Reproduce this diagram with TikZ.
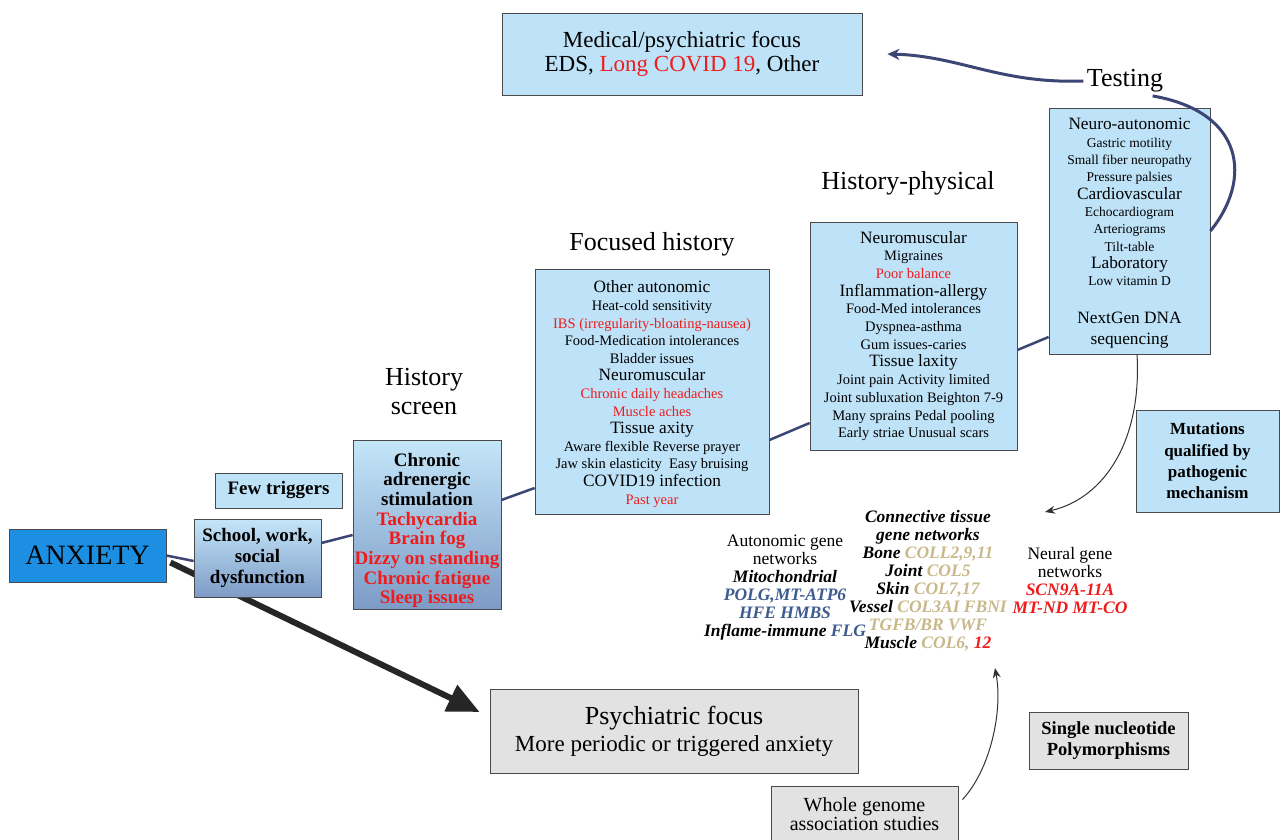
\documentclass[tikz,border=0pt]{standalone}
\usepackage{fontspec}
\setmainfont{Liberation Serif}
\usetikzlibrary{arrows.meta,positioning,backgrounds}

\definecolor{boxblue}{HTML}{BEE2F7}
\definecolor{boxtop}{HTML}{C4E6F9}
\definecolor{boxbot}{HTML}{7D9BC6}
\definecolor{anxblue}{HTML}{1C8FE3}
\definecolor{boxgray}{HTML}{E2E2E2}
\definecolor{edgegray}{HTML}{4A4A4A}
\definecolor{linkblue}{HTML}{3C4674}
\definecolor{hotred}{HTML}{EE1C1C}
\definecolor{genetan}{HTML}{C8B88A}
\definecolor{geneblue}{HTML}{3D5B8E}

\newcommand{\boxhead}[1]{{\fontsize{17.3}{17.6}\selectfont #1}}
\newcommand{\redtxt}[1]{\textcolor{hotred}{#1}}
\newcommand{\bfit}[1]{\textbf{\textit{#1}}}

\tikzset{
  bluebox/.style={draw=edgegray, line width=0.8pt, fill=boxblue, inner sep=0pt, align=center},
  gradbox/.style={draw=edgegray, line width=0.8pt, top color=boxtop, bottom color=boxbot,
    inner sep=0pt, align=center, font=\bfseries\fontsize{19}{19.7}\selectfont},
  graybox/.style={draw=edgegray, line width=0.8pt, fill=boxgray, inner sep=0pt, align=center},
  stagelabel/.style={font=\fontsize{26}{29}\selectfont, align=center},
  genetext/.style={align=center, font=\fontsize{17.5}{18}\selectfont},
  link/.style={draw=linkblue, line width=2.5pt},
  thinarrow/.style={draw=black!80, line width=1pt, -{Stealth[length=10pt,width=8pt]}},
  bigarrow/.style={draw=black!85, line width=6pt, -{Triangle[length=32pt,width=28pt]}}
}

\begin{document}
\begin{tikzpicture}[x=1pt,y=-1pt]
    \path[use as bounding box] (0,0) rectangle (1282,840);

    % the starting point and the first steps
    \node[draw=edgegray, line width=0.8pt, fill=anxblue, inner sep=0pt,
      minimum width=157pt, minimum height=53pt, font=\fontsize{28}{30}\selectfont]
      (anx) at (87.5,555.5) {ANXIETY};
    \node[gradbox, minimum width=127pt, minimum height=78pt, font=\bfseries\fontsize{19}{21}\selectfont]
      (school) at (257.5,558) {School, work,\\ social\\ dysfunction};
    \node[bluebox, minimum width=127pt, minimum height=35pt, font=\bfseries\fontsize{19}{21}\selectfont]
      (few) at (278.5,490.5) {Few triggers};
    \node[gradbox, minimum width=148pt, minimum height=169pt] (chronic) at (427,524.5)
      {\rule{0pt}{25pt}Chronic\\ adrenergic\\ stimulation\\ \redtxt{Tachycardia}\\ \redtxt{Brain fog}\\
       \redtxt{Dizzy on standing}\\ \redtxt{Chronic fatigue}\\ \redtxt{Sleep issues}};

    % the stage titles
    \node[stagelabel] (hslabel) at (424,392) {History\\ screen};
    \node[stagelabel] (fhlabel) at (652,244) {Focused history};
    \node[stagelabel] (hplabel) at (908,183) {History-physical};
    \node[stagelabel] (tlabel) at (1125,81) {Testing};

    % the boxes of each stage
    \node[bluebox, minimum width=234pt, minimum height=245pt, font=\fontsize{14.5}{17.6}\selectfont]
      (fhbox) at (652,391.5)
      {\rule{0pt}{17pt}\boxhead{Other autonomic}\\ Heat-cold sensitivity\\ \redtxt{IBS (irregularity-bloating-nausea)}\\
       Food-Medication intolerances\\ Bladder issues\\ \boxhead{Neuromuscular}\\
       \redtxt{Chronic daily headaches}\\ \redtxt{Muscle aches}\\ \boxhead{Tissue axity}\\
       Aware flexible Reverse prayer\\ Jaw skin elasticity\ \ Easy bruising\\
       \boxhead{COVID19 infection}\\ \redtxt{Past year}};
    \node[bluebox, minimum width=207pt, minimum height=228pt, font=\fontsize{14.5}{17.7}\selectfont]
      (hpbox) at (913.5,336)
      {\boxhead{Neuromuscular}\\ Migraines\\ \redtxt{Poor balance}\\ \boxhead{Inflammation-allergy}\\
       Food-Med intolerances\\ Dyspnea-asthma\\ Gum issues-caries\\ \boxhead{Tissue laxity}\\
       Joint pain Activity limited\\ Joint subluxation Beighton 7-9\\
       Many sprains Pedal pooling\\ Early striae Unusual scars};
    \node[bluebox, minimum width=161pt, minimum height=246pt, font=\fontsize{13.5}{17.3}\selectfont]
      (testbox) at (1129.5,231)
      {\rule{0pt}{16pt}\boxhead{Neuro-autonomic}\\ Gastric motility\\ Small fiber neuropathy\\ Pressure palsies\\
       \boxhead{Cardiovascular}\\ Echocardiogram\\ Arteriograms\\ Tilt-table\\
       \boxhead{Laboratory}\\ Low vitamin D\\[21pt] \boxhead{NextGen DNA}\\[3pt] \boxhead{sequencing}};
    \node[bluebox, minimum width=360pt, minimum height=82pt, font=\fontsize{23}{24}\selectfont]
      (medbox) at (682,54) {Medical/psychiatric focus\\ EDS, \redtxt{Long COVID 19}, Other};
    \node[bluebox, minimum width=143pt, minimum height=102pt, font=\bfseries\fontsize{17}{21.3}\selectfont]
      (mutbox) at (1207.5,461) {Mutations\\ qualified by\\ pathogenic\\ mechanism};

    % the gene networks
    \node[genetext] (autogenes) at (785,588)
      {Autonomic gene\\ networks\\ \bfit{Mitochondrial}\\ \bfit{\textcolor{geneblue}{POLG,MT-ATP6}}\\
       \bfit{\textcolor{geneblue}{HFE HMBS}}\\ \bfit{Inflame-immune \textcolor{geneblue}{FLG}}};
    \node[genetext] (ctgenes) at (928,581)
      {\bfit{Connective tissue}\\ \bfit{gene networks}\\ \bfit{Bone \textcolor{genetan}{COLL2,9,11}}\\
       \bfit{Joint \textcolor{genetan}{COL5}}\\ \bfit{Skin \textcolor{genetan}{COL7,17}}\\
       \bfit{Vessel \textcolor{genetan}{COL3AI FBNI}}\\ \bfit{\textcolor{genetan}{TGFB/BR VWF}}\\
       \bfit{Muscle \textcolor{genetan}{COL6,} \textcolor{hotred}{12}}};
    \node[genetext] (neurgenes) at (1070,581)
      {Neural gene\\ networks\\ \bfit{\textcolor{hotred}{SCN9A-11A}}\\ \bfit{\textcolor{hotred}{MT-ND MT-CO}}};

    % the grey boxes at the bottom
    \node[graybox, minimum width=368pt, minimum height=84pt, font=\fontsize{23}{27}\selectfont]
      (psych) at (674,731) {{\fontsize{26}{27}\selectfont Psychiatric focus}\\ More periodic or triggered anxiety};
    \node[graybox, minimum width=187pt, minimum height=78pt, font=\fontsize{20}{19}\selectfont]
      (wgas) at (864.5,825) {Whole genome\\ association studies\\[3pt]};
    \node[graybox, minimum width=159pt, minimum height=57pt, font=\bfseries\fontsize{18.5}{21}\selectfont]
      (snp) at (1108.5,740.5) {Single nucleotide\\ Polymorphisms};

    % free ends of the thin arrows
    \coordinate (genetip) at (1045,512);
    \coordinate (snptip) at (995,668);

    % the links between the steps
    \draw[link] (anx.east) -- ([yshift=-3pt]school.west);
    \draw[link] ([yshift=15pt]school.east) -- ([yshift=-10.5pt]chronic.west);
    \draw[link] ([yshift=24.5pt]chronic.east) -- ([yshift=-96.5pt]fhbox.west);
    \draw[link] ([yshift=-48.5pt]fhbox.east) -- ([yshift=-87pt]hpbox.west);
    \draw[link] ([yshift=-14pt]hpbox.east) -- ([yshift=-106pt]testbox.west);

    % testing loops back up
    \draw[link, line width=3pt] ([xshift=-14pt]tlabel.south east)
      .. controls (1245,112) and (1252,180) .. (testbox.east);
    \draw[draw=linkblue, line width=3pt, -{Stealth[length=12pt,width=11pt]}] (tlabel.west)
      .. controls (1000,84) and (960,56) .. ([xshift=25pt]medbox.east);

    % the thin arrows towards the genes
    \draw[thinarrow] ([xshift=7.5pt]testbox.south) .. controls (1142,440) and (1105,498) .. (genetip);
    \draw[thinarrow] ([shift={(4pt,-14pt)}]wgas.north east) .. controls (990,770) and (1003,712) .. (snptip);

    % the big arrow goes under the boxes
    \begin{scope}[on background layer]
        \fill[white] (0,0) rectangle (1282,840);
        \draw[bigarrow] ([shift={(4pt,-7pt)}]anx.east) -- ([shift={(-10pt,19pt)}]psych.west);
    \end{scope}

\end{tikzpicture}
\end{document}
